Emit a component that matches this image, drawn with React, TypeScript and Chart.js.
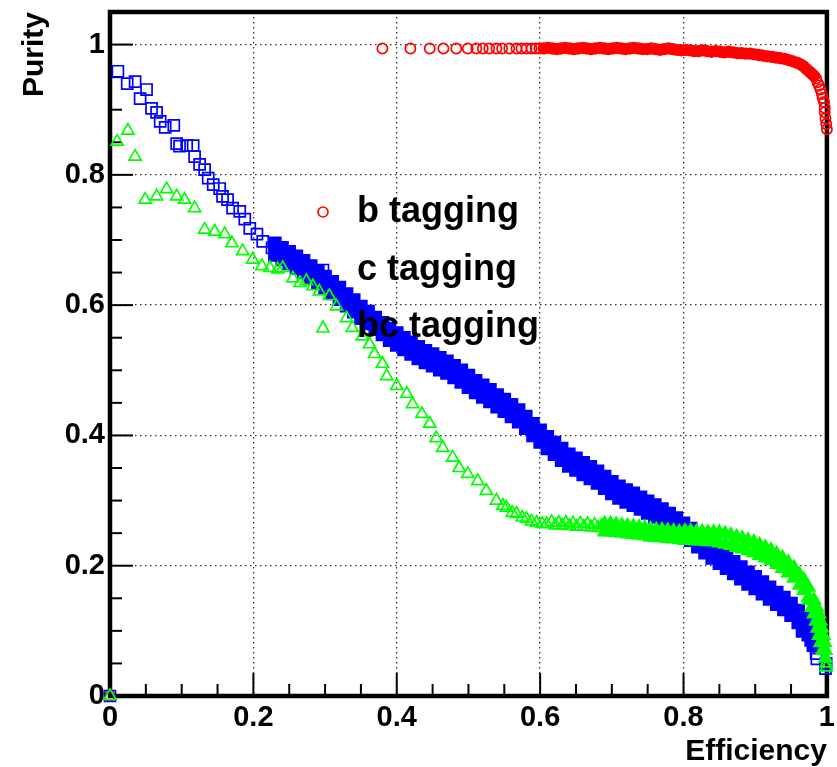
import { useEffect, useRef } from 'react';
import { Chart, registerables } from 'chart.js';

Chart.register(...registerables);

// ---- data (efficiency, purity) ----
const bTagging: [number, number][] = [
  [0, 0],
  [0.380, 0.994], [0.419, 0.994], [0.446, 0.994], [0.465, 0.994], [0.483, 0.994], [0.499, 0.994],
  [0.511, 0.994], [0.520, 0.994], [0.529, 0.994], [0.539, 0.994], [0.547, 0.994], [0.557, 0.994],
  [0.567, 0.994], [0.574, 0.994], [0.581, 0.994], [0.588, 0.994], [0.594, 0.994], [0.599, 0.994],
  [0.605, 0.994], [0.611, 0.995], [0.617, 0.994], [0.623, 0.993], [0.629, 0.994], [0.635, 0.995],
  [0.641, 0.994], [0.647, 0.993], [0.653, 0.994], [0.659, 0.995], [0.665, 0.994], [0.671, 0.993],
  [0.677, 0.994], [0.683, 0.995], [0.689, 0.994], [0.695, 0.993], [0.701, 0.994], [0.707, 0.995],
  [0.713, 0.994], [0.719, 0.993], [0.725, 0.994], [0.731, 0.995], [0.737, 0.994], [0.743, 0.993],
  [0.749, 0.993], [0.755, 0.994], [0.761, 0.993], [0.767, 0.992], [0.773, 0.993], [0.779, 0.994],
  [0.785, 0.993], [0.791, 0.992],
  [0.797, 0.991], [0.803, 0.992], [0.809, 0.991], [0.815, 0.990], [0.821, 0.990], [0.827, 0.991],
  [0.833, 0.990], [0.839, 0.989], [0.845, 0.990], [0.851, 0.989], [0.857, 0.988], [0.863, 0.989],
  [0.869, 0.988], [0.875, 0.987], [0.881, 0.987], [0.887, 0.986], [0.893, 0.986], [0.899, 0.985],
  [0.905, 0.984], [0.911, 0.983], [0.917, 0.982], [0.923, 0.981], [0.929, 0.980], [0.935, 0.979],
  [0.941, 0.978], [0.947, 0.976], [0.953, 0.974], [0.959, 0.972], [0.964, 0.969], [0.968, 0.966],
  [0.972, 0.962], [0.976, 0.958], [0.979, 0.955], [0.982, 0.952],
  [0.985, 0.948], [0.987, 0.942], [0.989, 0.937], [0.991, 0.931], [0.993, 0.924], [0.994, 0.918],
  [0.996, 0.912], [0.997, 0.903], [0.997, 0.896], [0.998, 0.887], [0.999, 0.878], [1.0, 0.870],
];

const cTagging: [number, number][] = [
  [0, 0],
  [0.011, 0.959], [0.024, 0.940], [0.035, 0.943], [0.042, 0.917], [0.051, 0.931], [0.058, 0.902],
  [0.065, 0.896], [0.070, 0.882], [0.077, 0.873], [0.089, 0.876], [0.093, 0.848], [0.097, 0.844],
  [0.107, 0.845], [0.116, 0.845], [0.118, 0.828], [0.125, 0.816], [0.132, 0.808], [0.137, 0.795],
  [0.144, 0.785], [0.153, 0.779], [0.157, 0.767], [0.164, 0.762], [0.171, 0.749], [0.181, 0.744],
  [0.188, 0.732], [0.195, 0.718], [0.205, 0.709], [0.213, 0.698], [0.226, 0.688],
  [0.23, 0.695], [0.23, 0.677], [0.24, 0.688], [0.24, 0.670], [0.25, 0.682], [0.25, 0.664],
  [0.26, 0.675], [0.26, 0.657], [0.27, 0.668], [0.27, 0.650], [0.28, 0.660], [0.28, 0.642],
  [0.29, 0.652], [0.29, 0.634], [0.30, 0.644], [0.30, 0.626], [0.31, 0.636], [0.31, 0.618],
  [0.32, 0.627], [0.32, 0.609], [0.33, 0.617], [0.33, 0.599], [0.34, 0.608], [0.34, 0.590],
  [0.35, 0.598], [0.35, 0.580], [0.36, 0.590], [0.36, 0.572], [0.37, 0.581], [0.37, 0.563],
  [0.38, 0.573], [0.38, 0.555], [0.39, 0.564], [0.39, 0.546], [0.40, 0.557], [0.40, 0.539],
  [0.41, 0.550], [0.41, 0.532], [0.42, 0.543], [0.42, 0.525], [0.43, 0.536], [0.43, 0.518],
  [0.44, 0.530], [0.44, 0.512], [0.45, 0.525], [0.45, 0.507], [0.46, 0.519], [0.46, 0.501],
  [0.47, 0.514], [0.47, 0.496], [0.48, 0.507], [0.48, 0.489], [0.49, 0.500], [0.49, 0.482],
  [0.50, 0.492], [0.50, 0.474], [0.51, 0.484], [0.51, 0.466], [0.52, 0.477], [0.52, 0.459],
  [0.53, 0.470], [0.53, 0.452], [0.54, 0.462], [0.54, 0.444], [0.55, 0.455], [0.55, 0.437],
  [0.56, 0.447], [0.56, 0.429], [0.57, 0.439], [0.57, 0.421], [0.58, 0.429], [0.58, 0.411],
  [0.59, 0.418], [0.59, 0.400], [0.60, 0.408], [0.60, 0.390], [0.61, 0.398], [0.61, 0.380],
  [0.62, 0.389], [0.62, 0.371], [0.63, 0.380], [0.63, 0.362], [0.64, 0.371], [0.64, 0.353],
  [0.65, 0.365], [0.65, 0.347], [0.66, 0.358], [0.66, 0.340], [0.67, 0.352], [0.67, 0.334],
  [0.68, 0.345], [0.68, 0.327], [0.69, 0.337], [0.69, 0.319], [0.70, 0.329], [0.70, 0.311],
  [0.71, 0.322], [0.71, 0.304], [0.72, 0.316], [0.72, 0.298], [0.73, 0.311], [0.73, 0.293],
  [0.74, 0.305], [0.74, 0.287], [0.75, 0.299], [0.75, 0.281], [0.76, 0.293], [0.76, 0.275],
  [0.77, 0.287], [0.77, 0.269], [0.78, 0.280], [0.78, 0.262], [0.79, 0.273], [0.79, 0.255],
  [0.80, 0.265], [0.80, 0.247], [0.81, 0.257], [0.81, 0.239], [0.82, 0.247], [0.82, 0.229],
  [0.83, 0.238], [0.83, 0.220], [0.84, 0.230], [0.84, 0.212], [0.85, 0.222], [0.85, 0.204],
  [0.86, 0.214], [0.86, 0.196], [0.87, 0.206], [0.87, 0.188], [0.88, 0.198], [0.88, 0.180],
  [0.89, 0.190], [0.89, 0.172], [0.90, 0.183], [0.90, 0.165], [0.91, 0.175], [0.91, 0.157],
  [0.92, 0.167], [0.92, 0.149], [0.93, 0.159], [0.93, 0.141], [0.94, 0.151], [0.94, 0.133],
  [0.95, 0.142], [0.95, 0.124], [0.96, 0.131], [0.96, 0.113], [0.97, 0.121], [0.97, 0.103],
  [0.966, 0.100], [0.974, 0.094], [0.978, 0.086], [0.981, 0.078], [0.976, 0.110], [0.980, 0.100],
  [0.984, 0.090], [0.986, 0.082],
  [0.985, 0.074], [0.985, 0.065], [0.986, 0.057], [0.999, 0.050], [0.998, 0.042],
];

const bcTagging: [number, number][] = [
  [0, 0],
  [0.010, 0.851], [0.025, 0.868], [0.035, 0.828], [0.049, 0.762], [0.065, 0.767], [0.079, 0.778],
  [0.093, 0.767], [0.104, 0.762], [0.118, 0.749], [0.132, 0.716], [0.146, 0.713], [0.160, 0.709],
  [0.170, 0.695], [0.185, 0.683], [0.199, 0.670], [0.212, 0.660], [0.223, 0.657], [0.234, 0.655],
  [0.241, 0.657], [0.255, 0.641], [0.265, 0.634], [0.274, 0.637], [0.283, 0.629], [0.292, 0.621],
  [0.306, 0.614], [0.316, 0.598], [0.330, 0.580], [0.338, 0.565], [0.352, 0.552], [0.362, 0.540],
  [0.369, 0.525], [0.380, 0.510], [0.386, 0.491], [0.400, 0.476], [0.414, 0.464], [0.422, 0.448],
  [0.435, 0.433], [0.446, 0.418], [0.455, 0.396], [0.464, 0.381], [0.478, 0.366], [0.487, 0.350],
  [0.499, 0.341], [0.513, 0.330], [0.525, 0.315], [0.539, 0.300], [0.548, 0.292], [0.553, 0.289],
  [0.561, 0.281], [0.567, 0.280], [0.575, 0.274], [0.581, 0.272], [0.588, 0.268], [0.595, 0.266],
  [0.603, 0.264], [0.609, 0.264],
  [0.616, 0.267], [0.621, 0.262], [0.626, 0.266], [0.631, 0.262], [0.636, 0.266], [0.641, 0.261],
  [0.646, 0.265], [0.651, 0.260], [0.656, 0.265], [0.661, 0.260], [0.666, 0.264], [0.671, 0.259],
  [0.676, 0.263], [0.681, 0.258], [0.686, 0.262],
  [0.690, 0.264], [0.690, 0.252], [0.698, 0.264], [0.698, 0.252], [0.706, 0.263], [0.706, 0.251],
  [0.714, 0.262], [0.714, 0.250], [0.722, 0.261], [0.722, 0.249], [0.730, 0.260], [0.730, 0.248],
  [0.738, 0.259], [0.738, 0.247], [0.746, 0.258], [0.746, 0.246], [0.754, 0.256], [0.754, 0.244],
  [0.762, 0.255], [0.762, 0.243], [0.770, 0.255], [0.770, 0.243], [0.778, 0.254], [0.778, 0.242],
  [0.786, 0.253], [0.786, 0.241], [0.794, 0.252], [0.794, 0.240], [0.802, 0.253], [0.802, 0.239],
  [0.810, 0.253], [0.810, 0.239], [0.818, 0.252], [0.818, 0.238], [0.826, 0.252], [0.826, 0.238],
  [0.834, 0.251], [0.834, 0.237], [0.842, 0.251], [0.842, 0.237], [0.850, 0.251], [0.850, 0.235],
  [0.858, 0.249], [0.858, 0.233], [0.866, 0.247], [0.866, 0.231], [0.874, 0.244], [0.874, 0.228],
  [0.882, 0.242], [0.882, 0.226], [0.890, 0.239], [0.890, 0.223], [0.898, 0.236], [0.898, 0.220],
  [0.906, 0.232], [0.906, 0.216], [0.914, 0.228], [0.914, 0.212], [0.922, 0.224], [0.922, 0.208],
  [0.930, 0.218], [0.930, 0.202], [0.938, 0.212], [0.938, 0.196], [0.946, 0.205], [0.946, 0.189],
  [0.954, 0.197], [0.954, 0.181], [0.962, 0.186], [0.962, 0.170], [0.968, 0.178], [0.968, 0.162],
  [0.974, 0.167], [0.974, 0.151],
  [0.975, 0.147], [0.982, 0.147], [0.979, 0.136], [0.986, 0.136], [0.982, 0.126], [0.989, 0.126],
  [0.985, 0.115], [0.991, 0.115], [0.987, 0.104], [0.993, 0.104], [0.989, 0.093], [0.995, 0.093],
  [0.991, 0.082], [0.997, 0.082], [0.994, 0.070], [0.998, 0.070],
  [0.998, 0.058], [0.999, 0.050], [0.999, 0.044],
];

const seriesLabels = ['b tagging', 'c tagging', 'bc tagging'];
const seriesColors = ['#ff0000', '#0000ff', '#00ff00'];
// efficiency ranges where the markers overlap into a solid band
const solidRanges: [number, number][] = [[0.602, 0.983], [0.229, 0.984], [0.689, 0.998]];
const xTitle = 'Efficiency';
const yTitle = 'Purity';
const xRange = [0, 1];
const yRange = [0, 1.05];
const majorStep = 0.2;
const minorStep = 0.05;

const FONT = '"Liberation Sans", Arial, Helvetica, sans-serif';

function fmt(v: number) {
  const r = Math.round(v * 10) / 10;
  return r === 0 ? '0' : r === 1 ? '1' : String(r);
}

function drawMarker(ctx: CanvasRenderingContext2D, style: string, x: number, y: number, color: string) {
  ctx.save();
  ctx.strokeStyle = color;
  ctx.lineWidth = 1.6;
  ctx.beginPath();
  if (style === 'circle') {
    ctx.arc(x, y, 5, 0, Math.PI * 2);
  } else if (style === 'rect') {
    ctx.rect(x - 5.5, y - 5.5, 11, 11);
  } else {
    ctx.moveTo(x, y - 6);
    ctx.lineTo(x + 6, y + 5);
    ctx.lineTo(x - 6, y + 5);
    ctx.closePath();
  }
  ctx.stroke();
  ctx.restore();
}

const rootStylePlugin = {
  id: 'rootStyle',
  beforeDatasetsDraw(chart: any) {
    const { ctx, chartArea: a, scales } = chart;
    const xs = scales.x;
    const ys = scales.y;
    ctx.save();
    ctx.strokeStyle = '#000';
    ctx.lineWidth = 2;
    const n = Math.round((xRange[1] - xRange[0]) / minorStep);
    const perMajor = Math.round(majorStep / minorStep);
    for (let i = 0; i <= n; i++) {
      const v = i * minorStep;
      const len = i % perMajor === 0 ? 23 : 12;
      const px = xs.getPixelForValue(v);
      ctx.beginPath();
      ctx.moveTo(px, a.bottom);
      ctx.lineTo(px, a.bottom - len);
      ctx.stroke();
      const py = ys.getPixelForValue(v);
      ctx.beginPath();
      ctx.moveTo(a.left, py);
      ctx.lineTo(a.left + len, py);
      ctx.stroke();
    }
    ctx.lineWidth = 4.5;
    ctx.strokeRect(a.left, a.top, a.right - a.left, a.bottom - a.top);
    ctx.restore();
  },
  afterDraw(chart: any) {
    const { ctx, chartArea: a } = chart;
    ctx.save();
    ctx.fillStyle = '#000';
    const baselines = [222, 280, 337];
    ctx.font = `bold 36px ${FONT}`;
    ctx.textAlign = 'left';
    ctx.textBaseline = 'alphabetic';
    chart.data.datasets.forEach((ds: any, i: number) => {
      drawMarker(ctx, ds.pointStyle, 323, baselines[i] - 10, ds.borderColor);
      ctx.fillText(ds.label, 357, baselines[i]);
    });
    ctx.font = `bold 30px ${FONT}`;
    ctx.textAlign = 'right';
    ctx.fillText(xTitle, a.right, 760);
    ctx.save();
    ctx.translate(43, a.top);
    ctx.rotate(-Math.PI / 2);
    ctx.textAlign = 'right';
    ctx.fillText(yTitle, 0, 0);
    ctx.restore();
    ctx.restore();
  },
};

export default function App() {
  const ref = useRef<HTMLCanvasElement>(null);
  useEffect(() => {
    document.body.style.margin = '0';
    const canvas = ref.current!;
    const series = [bTagging, cTagging, bcTagging];
    const styles = ['circle', 'rect', 'triangle'];
    const radii = [5.1, 7.8, 7];
    const solidRadii = [5.3, 8.4, 7.5];
    const tickFont = { family: FONT, size: 29, weight: 'bold' as const };
    const inSolid = (i: number, p: any) => p && p.x >= solidRanges[i][0] && p.x <= solidRanges[i][1];
    const chart = new Chart(canvas, {
      type: 'scatter',
      data: {
        datasets: series.map((pts, i) => ({
          label: seriesLabels[i],
          data: pts.map(([x, y]) => ({ x, y })),
          pointStyle: styles[i],
          pointRadius: (c: any) => (inSolid(i, c.raw) ? solidRadii[i] : radii[i]),
          pointBorderWidth: 1.7,
          borderColor: seriesColors[i],
          pointBorderColor: seriesColors[i],
          pointBackgroundColor: (c: any) => (inSolid(i, c.raw) ? seriesColors[i] : 'rgba(255,255,255,0)'),
          showLine: false,
          clip: false as any,
          order: 2 - i,
        })) as any,
      },
      options: {
        responsive: false,
        devicePixelRatio: 1,
        animation: false,
        events: [],
        layout: { padding: { left: 0, top: 12, right: 9, bottom: 0 } },
        plugins: { legend: { display: false }, tooltip: { enabled: false } },
        scales: {
          x: {
            type: 'linear',
            min: xRange[0],
            max: xRange[1],
            afterFit: (s: any) => { s.height = 71; s.paddingLeft = 0; s.paddingRight = 0; },
            ticks: {
              stepSize: majorStep,
              includeBounds: false,
              maxRotation: 0,
              autoSkip: false,
              padding: 5,
              color: '#000',
              font: tickFont,
              callback: (v: any) => fmt(Number(v)),
            },
            grid: { color: '#333', lineWidth: 1.3, drawTicks: false },
            border: { display: false, dash: [1.5, 3.5] },
          },
          y: {
            type: 'linear',
            min: yRange[0],
            max: yRange[1],
            afterFit: (s: any) => { s.width = 110; s.paddingTop = 0; s.paddingBottom = 0; },
            ticks: {
              stepSize: majorStep,
              includeBounds: false,
              autoSkip: false,
              padding: 5,
              color: '#000',
              font: tickFont,
              callback: (v: any) => fmt(Number(v)),
            },
            grid: { color: '#333', lineWidth: 1.3, drawTicks: false },
            border: { display: false, dash: [1.5, 3.5] },
          },
        },
      },
      plugins: [rootStylePlugin],
    });
    return () => chart.destroy();
  }, []);
  return (
    <div style={{ width: 837, height: 767 }}>
      <canvas ref={ref} width={837} height={767} style={{ display: 'block' }} />
    </div>
  );
}
